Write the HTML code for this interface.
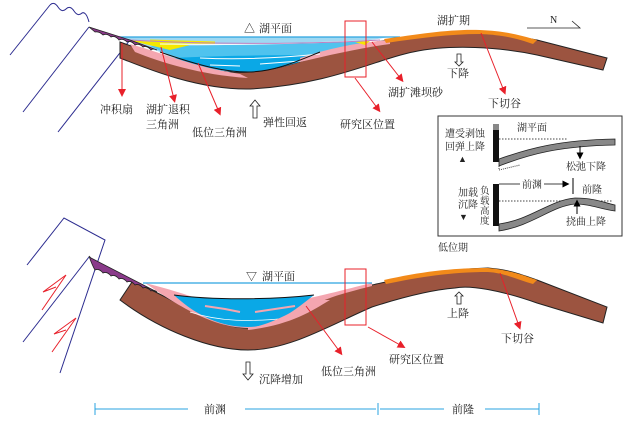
<!DOCTYPE html>
<html><head><meta charset="utf-8"><style>
html,body{margin:0;padding:0;background:#fff;}
svg{display:block;}
text{font-family:"Liberation Serif","Noto Serif CJK SC","Noto Sans CJK SC",serif;font-size:11px;fill:#222;}
</style></head><body>
<svg width="638" height="429" viewBox="0 0 638 429" xmlns="http://www.w3.org/2000/svg">
<defs>
<marker id="ar" markerWidth="8" markerHeight="8" refX="4" refY="4" orient="auto" markerUnits="userSpaceOnUse"><path d="M0,0 L8,4 L0,8 z" fill="#e8202a"/></marker>
<marker id="ab" markerWidth="7" markerHeight="7" refX="3.5" refY="3.5" orient="auto" markerUnits="userSpaceOnUse"><path d="M0,0 L7,3.5 L0,7 z" fill="#000"/></marker>
</defs>

<!-- ===== TOP ===== -->
<g stroke="#2b2b8f" stroke-width="1" fill="none">
<path d="M10,55 L50,5"/>
<path d="M50,5 q4,-4 8,2 q4,6 8,2 q4,-4 8,2 q4,6 8,2 q4,-2 7,9"/>
<path d="M89,27 L23,112"/>
<path d="M130,40 L58,132"/>
</g>
<path d="M120,42 C170,60 210,75 250,72 C300,68 330,45 413,37 C450,32 480,30 537,40 L607,58 L603,70 L537,55 C500,47 450,44 413,52 C380,58 330,85 250,89 C200,90 150,70 120,58 Z" fill="#9c5440" stroke="#222" stroke-width="1"/>
<path d="M118,37 L390,37 C370,40 340,44 300,58 C275,68 260,72 245,72 C210,72 180,62 160,52 C140,45 125,40 118,37 Z" fill="#9fd8f2"/>
<path d="M150,46 C200,46 280,44 370,41 C330,52 290,68 248,72 C210,72 180,60 150,46 Z" fill="#4fc3ee"/>
<path d="M175,58 C210,56 270,55 320,55 C290,66 265,72 248,72 C215,72 195,66 175,58 Z" fill="#0aa8e6"/>
<path d="M130,44 C160,52 190,66 240,74 L248,78 C200,75 160,62 135,52 Z" fill="#f4a6b0"/>
<path d="M300,58 C330,48 360,42 390,40 L390,44 C360,48 330,55 300,62 Z" fill="#f4a6b0"/>
<path d="M128,40 L190,45 L170,50 Z" fill="#f5e800"/>
<path d="M150,41 L215,43" stroke="#f5e800" stroke-width="3"/>
<path d="M355,42 L370,41 L365,45 Z" fill="#f5e800"/>
<g stroke="#fff" stroke-width="1" fill="none">
<path d="M160,44 C220,45 300,44 380,40"/>
<path d="M200,58 C240,60 280,58 320,54"/>
<path d="M210,65 L240,66"/><path d="M260,64 L300,61"/>
</g>
<path d="M160,52 C200,66 225,72 248,72 C275,72 300,60 320,52" fill="none" stroke="#111" stroke-width="1"/>
<path d="M130,40 C200,44 300,45 380,40" fill="none" stroke="#c080c0" stroke-width="1"/>
<line x1="118" y1="37" x2="400" y2="37" stroke="#2aa3e0" stroke-width="1.2"/>
<path d="M89,27 L130,40 L157,50 q-4,-2 -6,0 q-4,-5 -8,-3 q-4,-4 -8,-2 q-4,-5 -8,-3 q-4,-4 -8,-2 q-4,-5 -8,-3 q-4,-4 -8,-2 q-4,-4 -8,-3 Z" fill="#8a3a8a" stroke="#222" stroke-width="0.8"/>
<path d="M384,39 C420,34 450,29 480,30 C505,31 520,35 537,40 L533,44 C518,39 505,35 480,34 C450,34 420,38 386,43 Z" fill="#f28a1a"/>
<!-- red box -->
<rect x="345" y="21" width="21" height="56" fill="none" stroke="#e8202a" stroke-width="1"/>
<g stroke="#e8202a" stroke-width="1" marker-end="url(#ar)">
<line x1="122" y1="43" x2="122" y2="93"/>
<line x1="161" y1="47" x2="174" y2="99"/>
<line x1="198" y1="63" x2="219" y2="112"/>
<line x1="355" y1="78" x2="378" y2="109"/>
<line x1="372" y1="42" x2="401" y2="79"/>
<line x1="481" y1="33" x2="504" y2="91"/>
</g>
<text x="244" y="32" fill="#2aa3e0">△</text><text x="259" y="32">湖平面</text>
<text x="437" y="24">湖扩期</text>
<text x="550" y="23" style="font-size:10px">N</text>
<path d="M527,28 L580,28 L572,21" fill="none" stroke="#222" stroke-width="0.8"/>
<text x="100" y="113">冲积扇</text>
<text x="146" y="113">湖扩退积</text>
<text x="146" y="128">三角洲</text>
<text x="192" y="136">低位三角洲</text>
<text x="263" y="126">弹性回返</text>
<text x="340" y="128">研究区位置</text>
<text x="388" y="96">湖扩滩坝砂</text>
<text x="488" y="107">下切谷</text>
<text x="447" y="77">下降</text>
<path d="M253,118 L253,106 L250,106 L255,100 L260,106 L257,106 L257,118 Z" fill="#fff" stroke="#222" stroke-width="0.8"/>
<path d="M457,54 L457,62 L455,62 L459,66 L463,62 L461,62 L461,54 Z" fill="#fff" stroke="#222" stroke-width="0.8"/>

<!-- inset -->
<rect x="438" y="116" width="184" height="120" fill="#fff" stroke="#333" stroke-width="1"/>
<rect x="493" y="124" width="6" height="38" fill="#111"/>
<rect x="493" y="124" width="6" height="6" fill="#888"/>
<line x1="499" y1="139" x2="567" y2="139" stroke="#444" stroke-dasharray="1.5,1.5"/>
<path d="M499,159 C530,148 560,140 615,139 L615,145 C560,146 530,154 499,166 Z" fill="#888" stroke="#222" stroke-width="0.8"/>
<path d="M499,166 L499,170 L520,165" fill="none" stroke="#444" stroke-dasharray="1,1"/>
<text x="445" y="137" style="font-size:10px">遭受剥蚀</text>
<text x="445" y="150" style="font-size:10px">回弹上降</text>
<text x="458" y="162" style="font-size:9px">▲</text>
<text x="517" y="131" style="font-size:10px">湖平面</text>
<line x1="580" y1="146" x2="580" y2="156" stroke="#000" marker-end="url(#ab)"/>
<text x="566" y="170" style="font-size:10px">松弛下降</text>
<rect x="493" y="184" width="6" height="42" fill="#111"/>
<line x1="499" y1="184" x2="566" y2="184" stroke="#000" stroke-width="0.8" marker-end="url(#ab)"/>
<rect x="520" y="178" width="24" height="12" fill="#fff"/>
<text x="522" y="188" style="font-size:10px">前渊</text>
<line x1="573" y1="178" x2="573" y2="194" stroke="#000"/>
<text x="582" y="193" style="font-size:10px">前隆</text>
<line x1="499" y1="201" x2="612" y2="201" stroke="#444" stroke-dasharray="1.5,1.5"/>
<path d="M499,224 C530,220 550,200 575,198 C595,198 605,203 615,205 L615,211 C600,209 590,204 575,204 C552,206 532,226 499,231 Z" fill="#888" stroke="#222" stroke-width="0.8"/>
<line x1="577" y1="214" x2="577" y2="203" stroke="#000" marker-end="url(#ab)"/>
<text x="566" y="225" style="font-size:10px">挠曲上降</text>
<text x="458" y="196" style="font-size:10px">加载</text>
<text x="458" y="208" style="font-size:10px">沉降</text>
<text x="459" y="220" style="font-size:9px">▼</text>
<text x="480" y="194" style="font-size:9.5px">负</text>
<text x="480" y="204" style="font-size:9.5px">载</text>
<text x="480" y="214" style="font-size:9.5px">高</text>
<text x="480" y="224" style="font-size:9.5px">度</text>
<text x="438" y="251" style="font-size:10px">低位期</text>

<!-- ===== BOTTOM ===== -->
<g stroke="#2b2b8f" stroke-width="1" fill="none">
<path d="M27,265 L64,218 L105,240 L60,373"/>
<path d="M89,257 L23,342"/>
</g>
<g stroke="#e8202a" stroke-width="1" fill="none">
<path d="M42,310 L66,275 L43,292 L56,287"/>
<path d="M52,352 L76,318 L54,334 L66,330"/>
</g>
<path d="M132,282 C170,295 210,328 248,328 C280,328 300,300 372,285 C400,279 430,270 488,268 C510,270 520,274 537,280 L607,307 L603,323 L537,303 C500,290 470,285 455,288 C430,290 400,298 372,307 C330,325 290,350 248,350 C210,350 160,330 120,300 Z" fill="#9c5440" stroke="#222" stroke-width="1"/>
<path d="M145,283 C190,294 220,308 248,312 L300,300 C330,294 350,288 372,283 L372,286 C340,294 320,300 310,308 C290,320 270,328 248,328 C210,328 170,300 145,283 Z" fill="#f4a6b0"/>
<path d="M174,295 C210,300 270,300 314,295 C295,310 275,327 248,327 C215,327 190,310 174,295 Z" fill="#0aa8e6"/>
<path d="M174,295 C210,300 270,300 314,295" fill="none" stroke="#111" stroke-width="1"/>
<path d="M190,312 C220,322 250,322 290,318" fill="none" stroke="#fff" stroke-width="0.8"/>
<path d="M205,306 L225,309 L240,312" stroke="#f4a6b0" stroke-width="2" fill="none"/>
<path d="M255,312 L295,306" stroke="#f4a6b0" stroke-width="2" fill="none"/>
<path d="M248,328 C275,325 300,305 320,300 L330,300 C310,312 290,325 248,330 Z" fill="#f4a6b0"/>
<line x1="143" y1="283" x2="372" y2="283" stroke="#2aa3e0" stroke-width="1.2"/>
<path d="M91,258 L157,292 q-4,-3 -6,-1 q-4,-5 -8,-3 q-4,-5 -8,-3 q-4,-5 -8,-3 q-4,-5 -8,-3 q-4,-5 -8,-3 q-4,-5 -8,-3 q-4,-5 -8,-3 q-3,-5 -6,-14 Z" fill="#8a3a8a" stroke="#222" stroke-width="0.8"/>
<path d="M384,280 C420,272 450,268 488,268 C510,270 525,276 537,280 L533,284 C518,280 505,273 488,272 C450,272 420,277 386,284 Z" fill="#f28a1a"/>
<rect x="345" y="269" width="21" height="56" fill="none" stroke="#e8202a" stroke-width="1"/>
<g stroke="#e8202a" stroke-width="1" marker-end="url(#ar)">
<line x1="306" y1="306" x2="340" y2="352"/>
<line x1="368" y1="327" x2="402" y2="346"/>
<line x1="500" y1="273" x2="519" y2="326"/>
</g>
<text x="246" y="280" fill="#2aa3e0">▽</text><text x="262" y="280">湖平面</text>
<text x="321" y="375">低位三角洲</text>
<text x="389" y="363">研究区位置</text>
<text x="501" y="342">下切谷</text>
<text x="447" y="317">上降</text>
<path d="M457,304 L457,296 L455,296 L459,292 L463,296 L461,296 L461,304 Z" fill="#fff" stroke="#222" stroke-width="0.8"/>
<path d="M246,362 L246,374 L243,374 L248,380 L253,374 L250,374 L250,362 Z" fill="#fff" stroke="#222" stroke-width="0.8"/>
<text x="259" y="383">沉降增加</text>
<g stroke="#2aa3e0" stroke-width="1">
<line x1="95" y1="409" x2="188" y2="409"/>
<line x1="245" y1="409" x2="376" y2="409"/>
<line x1="380" y1="409" x2="444" y2="409"/>
<line x1="485" y1="409" x2="539" y2="409"/>
<line x1="95" y1="403" x2="95" y2="415"/>
<line x1="378" y1="403" x2="378" y2="415"/>
<line x1="539" y1="403" x2="539" y2="415"/>
</g>
<text x="204" y="413">前渊</text>
<text x="452" y="413">前隆</text>
</svg>
</body></html>
